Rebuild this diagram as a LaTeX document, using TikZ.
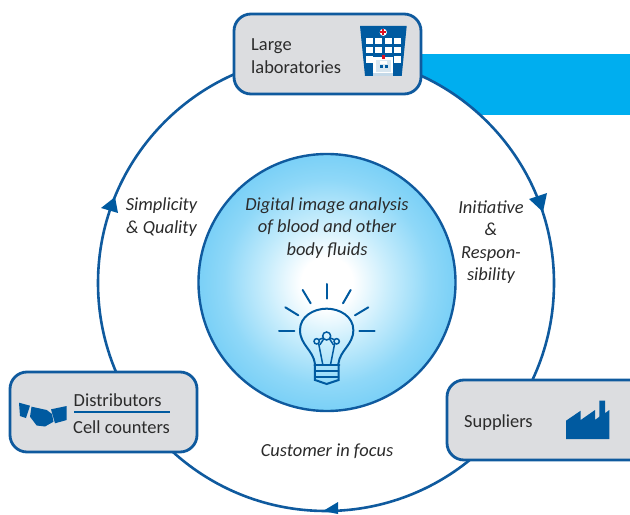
\documentclass[tikz,border=0pt]{standalone}
\usepackage{fontspec}
\setmainfont{Carlito}
\definecolor{ringblue}{HTML}{0F5A9E}
\definecolor{iconblue}{HTML}{005AA0}
\definecolor{boxgrey}{HTML}{DCDDE0}
\definecolor{banner}{HTML}{00AEEF}
\definecolor{orbedge}{HTML}{58C3F4}
\definecolor{orbmid}{HTML}{8FD8F8}
\definecolor{orblight}{HTML}{C8EDFC}
\definecolor{doorglass}{HTML}{D8E6F0}
\definecolor{doorstep}{HTML}{C5D9E8}
\definecolor{crossred}{HTML}{E01020}
\definecolor{txt}{HTML}{2B2B2B}
\pgfdeclareradialshading{orbshade}{\pgfpoint{0bp}{0bp}}{%
  color(0bp)=(white); color(5bp)=(white); color(12bp)=(orblight); color(20bp)=(orbmid); color(33bp)=(orbedge); color(50bp)=(orbedge)}
\tikzset{
  x=1bp,y=-1bp,
  cardbox/.style={draw=ringblue,line width=2.8bp,fill=boxgrey,rounded corners=17bp,inner sep=0pt},
  label/.style={text=txt,font=\fontsize{18.5}{22.5}\selectfont,align=left,inner sep=0pt},
  ital/.style={text=txt,font=\fontsize{18.5}{22.5}\selectfont\itshape,align=center,inner sep=0pt},
  ring/.style={draw=ringblue,line width=2.6bp},
  bulb/.style={draw=iconblue,line width=2bp,line cap=round},
  fine/.style={draw=iconblue,line width=1.5bp,line cap=round},
}
\begin{document}
\begin{tikzpicture}
\useasboundingbox (0,0) rectangle (630,515);
% banner
\fill[banner] (415,54) rectangle (630,115);
% ring
\coordinate (ringc) at (326,283);
\draw[ring,fill=white] (ringc) circle[radius=228];
% arrowheads
\fill[iconblue] (529,199) -- (547,193) -- (543,212) -- cycle;
\fill[iconblue] (101,208) -- (118,213) -- (115,197) -- cycle;
\fill[iconblue] (323,511) -- (338,502) -- (338,514) -- cycle;
% orb
\shade[shading=orbshade] (327,282.5) circle[radius=128.5];
\draw[ringblue,line width=2.4bp] (327,282.5) circle[radius=128.5];
% cards
\draw[cardbox] (234,14) rectangle (421,94);
\draw[cardbox] (10,372) rectangle (197,452);
\draw[cardbox] (447,380) rectangle (650,460);
% card text
\node[label,anchor=west] (lab) at (251,56) {Large\\laboratories};
\node[label,anchor=base west] (dist) at (73.5,406) {Distributors};
\node[label,anchor=base west] (cell) at (73,433) {Cell counters};
\node[label,anchor=base west] (supp) at (464,427) {Suppliers};
\coordinate (ruleL) at (74,412);
\coordinate (ruleR) at (170,412);
\draw[iconblue,line width=2.2bp] (ruleL) -- (ruleR);
% italic labels
\node[ital] (orbtext) at (327,228) {Digital image analysis\\of blood and other\\body fluids};
\node[ital] (simp) at (161.5,217) {Simplicity\\\& Quality};
\node[ital] (init) at (491,242) {Initiative\\\&\\Respon-\\sibility};
\node[ital] (cust) at (327,451) {Customer in focus};
% hospital
\fill[iconblue] (360,26) -- (406.7,26) -- (401.7,76) -- (365,76) -- cycle;
\fill[white] (383.3,32.3) circle[radius=3.6];
\fill[crossred] (382.2,29.4) rectangle (384.4,35.2);
\fill[crossred] (380.4,31.2) rectangle (386.2,33.4);
\foreach \x in {366,375.4,385,394}{
  \foreach \y in {37.7,46.7}{\fill[white] (\x,\y) rectangle ++(6.7,6.7);}
}
\foreach \x in {366,394}{\fill[white] (\x,56) rectangle ++(6.7,6.7);}
\fill[white] (373.3,56.7) rectangle (393.3,76);
\fill[doorglass] (376,60) rectangle (390.7,71.7);
\fill[white] (380,61) rectangle (387,64.5);
\fill[iconblue] (379.5,65.5) rectangle (382.5,68);
\fill[iconblue] (384.5,65.5) rectangle (387.5,68);
\fill[crossred] (382,55.5) rectangle (384.8,59);
\fill[doorstep] (373.3,73) rectangle (393.3,76);
% handshake
\fill[iconblue] (19,402.7) -- (30,405.7) -- (26,418) -- (20,416) -- cycle;
\fill[iconblue] (31.5,406.7) -- (46.7,410) -- (52,414) -- (53.5,421.7) -- (45,426.5) -- (36.7,425.5) -- (30,416.7) -- cycle;
\fill[iconblue] (51,409.3) -- (66.7,406) -- (66.7,420) -- (55,423.3) -- cycle;
% factory
\fill[iconblue] (566,439) -- (566,420.7) -- (580.7,410.7) -- (580.7,420) -- (595,410) -- (595,420) -- (599.3,416.7) -- (599.3,400.7) -- (605,400.7) -- (605,413.3) -- (609.3,410) -- (609.3,439) -- cycle;
% bulb
\begin{scope}[shift={(260,270)},x=0.3333bp,y=-0.3333bp]
\draw[bulb] (200,42) -- (200,86);
\draw[bulb] (128,60) -- (152,100);
\draw[bulb] (272,60) -- (249,100);
\draw[bulb] (76,112) -- (115,136);
\draw[bulb] (325,112) -- (285,136);
\draw[bulb] (57,184) -- (103,184);
\draw[bulb] (298,184) -- (344,184);
\draw[bulb] (165,282) .. controls (160,240) and (120,225) .. (120,180) .. controls (120,140) and (160,116) .. (200,116) .. controls (240,116) and (280,140) .. (280,180) .. controls (280,225) and (240,240) .. (235,282);
\draw[bulb] (163,285) -- (238,285);
\draw[bulb] (166,304) -- (235,304);
\draw[bulb] (166,322) -- (235,322);
\draw[bulb] (165,285) -- (165,330) -- (200,342) -- (236,330) -- (236,285);
\draw[fine] (200,198) circle[radius=12];
\draw[fine] (170,214) circle[radius=8];
\draw[fine] (230,214) circle[radius=8];
\draw[fine] (176,221) -- (188,282);
\draw[fine] (224,221) -- (212,282);
\draw[fine] (189,204) -- (177,209);
\draw[fine] (211,204) -- (223,209);
\draw[fine] (191,207) -- (180,224);
\draw[fine] (209,207) -- (220,224);
\end{scope}
\end{tikzpicture}
\end{document}
